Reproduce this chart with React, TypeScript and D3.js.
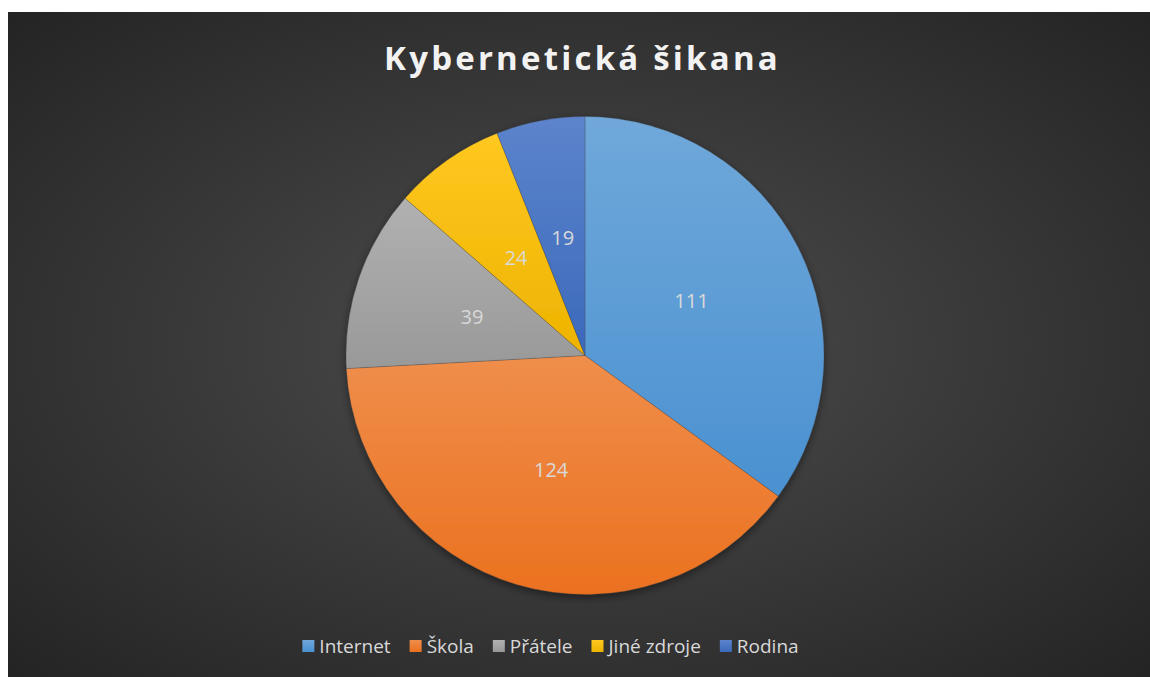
import React, { useEffect, useRef } from "react";
import * as d3 from "d3";

const categories = ["Internet", "Škola", "Přátele", "Jiné zdroje", "Rodina"];
const values = [111, 124, 39, 24, 19];
const baseColors = ["#5B9BD5", "#ED7D31", "#A5A5A5", "#FFC000", "#4472C4"];
const title = "Kybernetická šikana";

const W = 1142;
const H = 665;

export default function App() {
  const ref = useRef<SVGSVGElement | null>(null);

  useEffect(() => {
    const svg = d3.select(ref.current);
    svg.selectAll("*").remove();
    const defs = svg.append("defs");

    const bg = defs.append("radialGradient").attr("id", "bg").attr("cx", "50%").attr("cy", "50%").attr("r", "72%");
    bg.append("stop").attr("offset", "0%").attr("stop-color", "#4e4e4e");
    bg.append("stop").attr("offset", "100%").attr("stop-color", "#232323");

    baseColors.forEach((c, i) => {
      const g = defs.append("linearGradient").attr("id", "sg" + i).attr("x1", 0).attr("y1", 0).attr("x2", 0).attr("y2", 1);
      const light = d3.interpolateRgb(c, "#ffffff")(0.13);
      const h = d3.hsl(c);
      h.l = h.l * 0.93;
      g.append("stop").attr("offset", "0%").attr("stop-color", light);
      g.append("stop").attr("offset", "100%").attr("stop-color", h.formatHex());
    });

    const f = defs.append("filter").attr("id", "sh").attr("x", "-10%").attr("y", "-10%").attr("width", "120%").attr("height", "125%");
    f.append("feDropShadow").attr("dx", 0).attr("dy", 3).attr("stdDeviation", 4).attr("flood-color", "#000").attr("flood-opacity", 0.45);

    svg.append("rect").attr("width", W).attr("height", H).attr("fill", "url(#bg)");

    svg.append("text")
      .attr("x", 574.5).attr("y", 57.5)
      .attr("text-anchor", "middle")
      .attr("font-family", "'Open Sans', sans-serif")
      .attr("font-weight", 700)
      .attr("font-size", 33)
      .attr("letter-spacing", 3.2)
      .attr("fill", "#f2f2f2")
      .text(title);

    const cx = 577, cy = 343.5, R = 239;
    const pie = d3.pie<number>().sort(null).value((d) => d);
    const arcs = pie(values);
    const arc = d3.arc<d3.PieArcDatum<number>>().innerRadius(0).outerRadius(R);
    const labelArc = d3.arc<d3.PieArcDatum<number>>().innerRadius(R * 0.5).outerRadius(R * 0.5);

    const g = svg.append("g").attr("transform", `translate(${cx},${cy})`);
    const sl = g.append("g").attr("filter", "url(#sh)");
    sl.selectAll("path").data(arcs).join("path")
      .attr("d", arc as any)
      .attr("fill", (_d, i) => `url(#sg${i})`)
      .attr("stroke", "rgba(60,60,60,0.35)")
      .attr("stroke-width", 0.75);

    g.selectAll("text.lbl").data(arcs).join("text")
      .attr("class", "lbl")
      .attr("transform", (d) => `translate(${labelArc.centroid(d)})`)
      .attr("dy", "0.35em")
      .attr("text-anchor", "middle")
      .attr("font-family", "'Open Sans', sans-serif")
      .attr("font-size", 20)
      .attr("fill", "#d9d9d9")
      .text((d) => String(d.data));

    // legend
    const lg = svg.append("g");
    const fs = 19;
    const items = categories.map((c, i) => {
      const it = lg.append("g");
      it.append("rect").attr("width", 12).attr("height", 12).attr("y", -13).attr("fill", `url(#sg${i})`);
      const t = it.append("text").attr("x", 17).attr("font-family", "'Open Sans', sans-serif")
        .attr("font-size", fs).attr("fill", "#d9d9d9").text(c);
      const w = 17 + (t.node() as SVGTextElement).getComputedTextLength();
      return { it, w };
    });
    const gap = 19;
    const total = d3.sum(items, (d) => d.w) + gap * (items.length - 1);
    let x = 542.5 - total / 2;
    const ly = 641;
    items.forEach(({ it, w }) => {
      it.attr("transform", `translate(${x},${ly})`);
      x += w + gap;
    });
  }, []);

  return (
    <svg
      ref={ref}
      width={W}
      height={H}
      style={{ position: "absolute", left: 8, top: 12, display: "block" }}
    />
  );
}
